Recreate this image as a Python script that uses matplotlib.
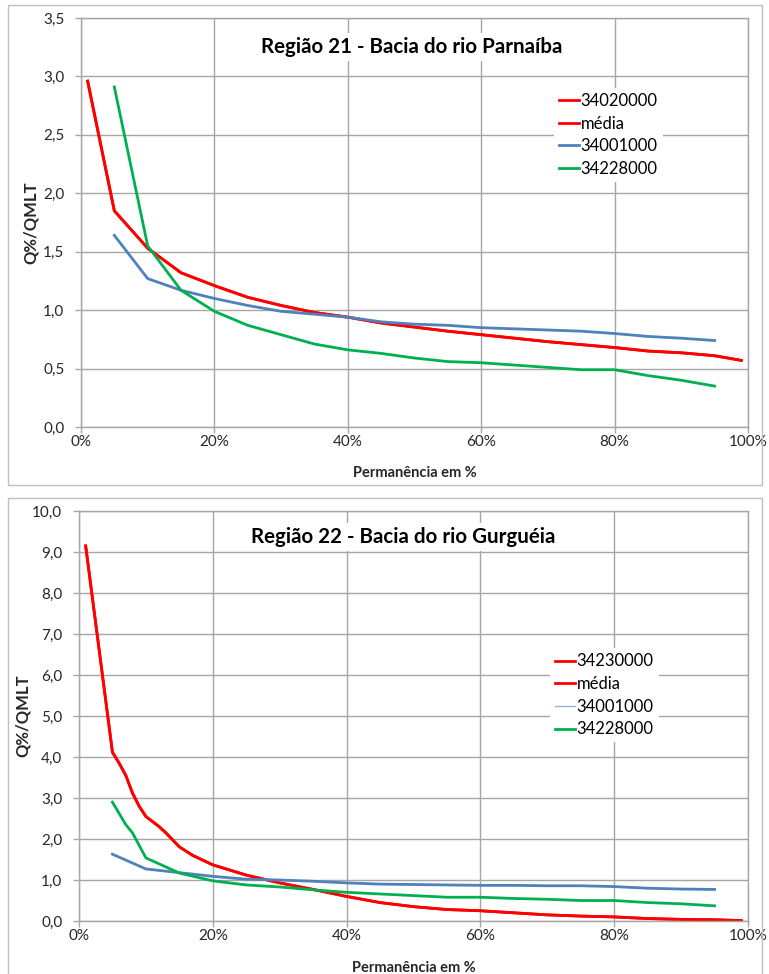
import matplotlib.pyplot as plt
from matplotlib.patches import Rectangle
from matplotlib.ticker import FuncFormatter, MultipleLocator

plt.rcParams['font.family'] = ['Lato', 'DejaVu Sans']

# Região 21 - Bacia do rio Parnaíba
x_red21 = [1, 5, 10, 15, 20, 25, 30, 35, 40, 45, 50, 55, 60, 65, 70, 75, 80, 85, 90, 95, 99]
y_red21 = [2.96, 1.85, 1.53, 1.32, 1.21, 1.11, 1.04, 0.98, 0.94, 0.89, 0.855, 0.82, 0.79,
           0.76, 0.73, 0.705, 0.68, 0.65, 0.635, 0.61, 0.57]
x_st = [5, 10, 15, 20, 25, 30, 35, 40, 45, 50, 55, 60, 65, 70, 75, 80, 85, 90, 95]
y_blue21 = [1.64, 1.27, 1.17, 1.10, 1.04, 0.99, 0.965, 0.94, 0.90, 0.88, 0.87, 0.85,
            0.84, 0.83, 0.82, 0.80, 0.775, 0.76, 0.74]
y_green21 = [2.91, 1.55, 1.17, 0.99, 0.87, 0.79, 0.71, 0.66, 0.63, 0.59, 0.56, 0.55,
             0.53, 0.51, 0.49, 0.49, 0.44, 0.40, 0.35]

# Região 22 - Bacia do rio Gurguéia
x_red22 = [1, 5, 6, 7, 8, 9, 10, 12, 13, 15, 17, 20, 25, 30, 35, 40, 45, 50, 55, 60,
           65, 70, 75, 80, 85, 90, 95, 99]
y_red22 = [9.15, 4.12, 3.85, 3.55, 3.12, 2.8, 2.55, 2.3, 2.15, 1.81, 1.6, 1.37, 1.12,
           0.93, 0.77, 0.6, 0.45, 0.35, 0.28, 0.25, 0.2, 0.15, 0.12, 0.1, 0.06, 0.04,
           0.03, 0.01]
y_blue22 = [1.63, 1.27, 1.18, 1.09, 1.02, 1.0, 0.97, 0.93, 0.9, 0.89, 0.88, 0.87,
            0.87, 0.86, 0.86, 0.84, 0.8, 0.78, 0.77]
x_green22 = [5, 7, 8, 10, 15, 20, 25, 30, 35, 40, 45, 50, 55, 60, 65, 70, 75, 80, 85, 90, 95]
y_green22 = [2.9, 2.35, 2.15, 1.54, 1.17, 0.98, 0.88, 0.83, 0.76, 0.7, 0.66, 0.62, 0.58,
             0.58, 0.55, 0.53, 0.5, 0.5, 0.45, 0.42, 0.37]

RED = '#ff0000'
BLUE = '#4f81bd'
GREEN = '#00b050'
GRID = '#a6a6a6'
TXT = '#262626'

fig = plt.figure(figsize=(7.69, 9.74), dpi=100)

# chart frames
fig.patches.append(Rectangle((0.0104, 0.502), 0.9805, 0.4928, transform=fig.transFigure,
                             fill=False, edgecolor='#bfbfbf', lw=1.0))
fig.patches.append(Rectangle((0.0104, -0.02), 0.9805, 0.5087, transform=fig.transFigure,
                             fill=False, edgecolor='#bfbfbf', lw=1.0))

ax1 = fig.add_axes([0.1053, 0.5616, 0.8674, 0.4199])
ax2 = fig.add_axes([0.1027, 0.0544, 0.8700, 0.4209])


def style(ax, ymax, ystep, xpad, ypad):
    ax.set_xlim(0, 100)
    ax.set_ylim(0, ymax)
    ax.xaxis.set_major_locator(MultipleLocator(20))
    ax.yaxis.set_major_locator(MultipleLocator(ystep))
    ax.xaxis.set_major_formatter(FuncFormatter(lambda v, p: f'{v:.0f}%'))
    ax.yaxis.set_major_formatter(FuncFormatter(lambda v, p: f'{v:.1f}'.replace('.', ',')))
    ax.grid(True, color=GRID, lw=1.0)
    ax.set_axisbelow(True)
    for s in ax.spines.values():
        s.set_color(GRID)
        s.set_linewidth(1.0)
    ax.tick_params(colors=GRID, labelcolor=TXT, labelsize=11, length=4, width=1.0)
    ax.tick_params(axis='x', pad=2)
    ax.tick_params(axis='y', pad=8)
    ax.set_xlabel('Permanência em %', fontsize=10.5, fontweight='bold', color=TXT,
                  labelpad=xpad)
    ax.set_ylabel('Q%/QMLT', fontsize=12, fontweight='bold', color=TXT, labelpad=ypad)


style(ax1, 3.5, 0.5, 12, 3)
ax1.plot(x_red21, y_red21, color=RED, lw=2.0, label='34020000')
ax1.plot(x_red21, y_red21, color=RED, lw=2.0, label='média')
ax1.plot(x_st, y_blue21, color=BLUE, lw=2.0, label='34001000')
ax1.plot(x_st, y_green21, color=GREEN, lw=2.0, label='34228000')
ax1.text(0.496, 0.929, 'Região 21 - Bacia do rio Parnaíba', transform=ax1.transAxes,
         ha='center', va='center', fontsize=14.8, fontweight='bold', color='#000000',
         bbox=dict(facecolor='white', edgecolor='none', pad=3))
leg1 = ax1.legend(loc='upper left', bbox_to_anchor=(0.709, 0.829), frameon=True,
                  fontsize=12, handlelength=1.2, handletextpad=0.1, labelspacing=0.4,
                  borderaxespad=0, borderpad=0.3)
leg1.get_frame().set_edgecolor('none')
leg1.get_frame().set_alpha(1)

style(ax2, 10, 1.0, 13, 1)
ax2.plot(x_red22, y_red22, color=RED, lw=2.0, label='34230000')
ax2.plot(x_red22, y_red22, color=RED, lw=2.0, label='média')
ax2.plot(x_st, y_blue22, color=BLUE, lw=2.0, label='34001000')
ax2.plot(x_green22, y_green22, color=GREEN, lw=2.0, label='34228000')
ax2.text(0.484, 0.937, 'Região 22 - Bacia do rio Gurguéia', transform=ax2.transAxes,
         ha='center', va='center', fontsize=14.8, fontweight='bold', color='#000000',
         bbox=dict(facecolor='white', edgecolor='none', pad=3))
leg2 = ax2.legend(loc='upper left', bbox_to_anchor=(0.704, 0.665), frameon=True,
                  fontsize=12, handlelength=1.2, handletextpad=0.1, labelspacing=0.4,
                  borderaxespad=0, borderpad=0.3)
leg2.get_frame().set_edgecolor('none')
leg2.get_frame().set_alpha(1)
leg2.get_lines()[2].set_linewidth(1.0)
leg2.get_lines()[2].set_color('#95b3d7')

fig.savefig('out.png', dpi=100, facecolor='white')
